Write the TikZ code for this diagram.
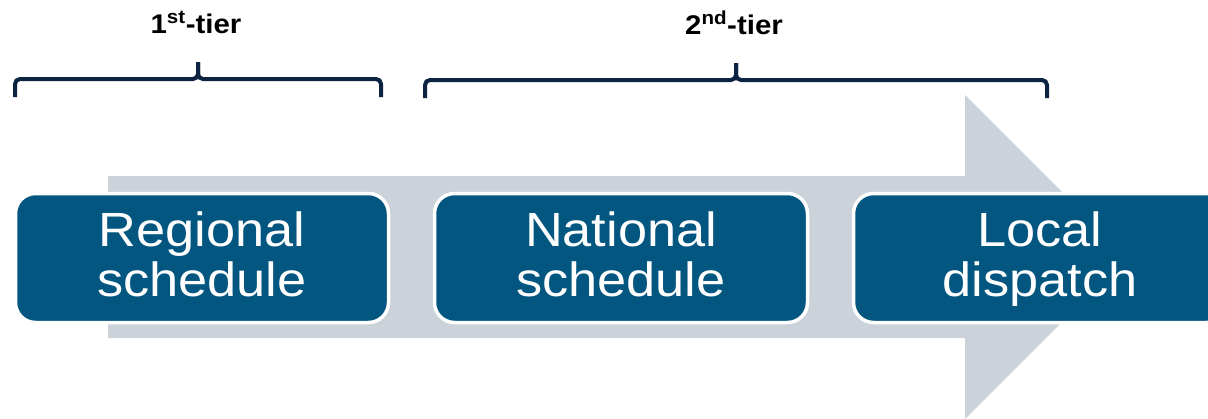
\documentclass[tikz,border=0pt]{standalone}
\usepackage{fontspec}
\setmainfont{Liberation Sans}
\newfontfamily\widesans[FakeStretch=1.09]{Liberation Sans}
\definecolor{stepblue}{HTML}{03567F}
\definecolor{flowgrey}{HTML}{CBD2DA}
\definecolor{bracenavy}{HTML}{0C2341}
% strut that fixes the height and depth of every line in a stage box
\newcommand{\linestrut}{\rule[-10.6pt]{0pt}{48.6pt}}
\tikzset{
  stagebox/.style={rectangle, rounded corners=20pt, fill=stepblue, draw=white,
    line width=3.5pt, minimum width=373pt, minimum height=129pt, inner sep=0pt,
    text=white, align=center, font=\widesans\fontsize{48}{50}\selectfont},
  tierbrace/.style={draw=bracenavy, line width=4pt, rounded corners=5pt},
  tierlabel/.style={anchor=base, font=\widesans\bfseries\fontsize{27}{29}\selectfont, text=black}
}
\begin{document}
\begin{tikzpicture}[x=1pt,y=-1pt]
  \clip (0,0) rectangle (1208,418);
  \fill[white] (0,0) rectangle (1208,418);
  % grey process arrow behind the stages
  \fill[flowgrey] (108,176) -- (965,176) -- (965,95) -- (1127,257)
    -- (965,419) -- (965,338) -- (108,338) -- cycle;
  % stages
  \node[stagebox] (regional) at (202,258) {\linestrut Regional\\\linestrut schedule};
  \node[stagebox] (national) at (621,258) {\linestrut National\\\linestrut schedule};
  \node[stagebox] (local) at (1040,258) {\linestrut Local\\\linestrut dispatch};
  % tier braces
  \draw[tierbrace] (15,97) |- (198,79) -- (198,62);
  \draw[tierbrace] (381,97) |- (198,79) -- (198,62);
  \draw[tierbrace] (425,98) |- (736,80) -- (736,63);
  \draw[tierbrace] (1047,98) |- (736,80) -- (736,63);
  % tier labels
  \node[tierlabel] (tier1) at (196,33) {1\textsuperscript{st}-tier};
  \node[tierlabel] (tier2) at (734,34) {2\textsuperscript{nd}-tier};
\end{tikzpicture}
\end{document}
